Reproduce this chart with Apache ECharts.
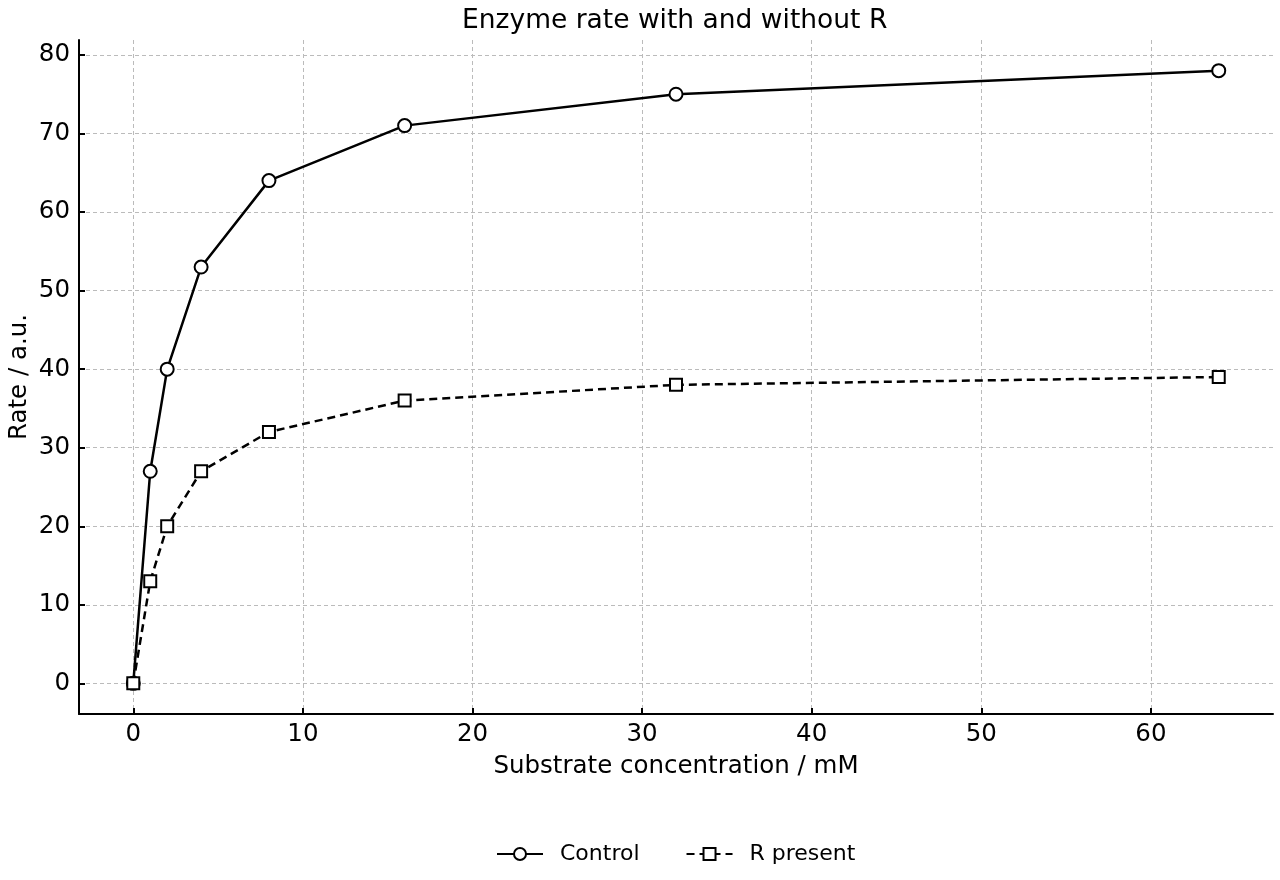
<!DOCTYPE html>
<html>
<head>
<meta charset="utf-8">
<script src="https://cdn.jsdelivr.net/npm/echarts@6/dist/echarts.min.js"></script>
<style>
  html, body { margin: 0; padding: 0; background: #fff; }
  #main { width: 1280px; height: 880px; }
</style>
</head>
<body>
<div id="main"></div>
<script>
var substrate = [0, 1, 2, 4, 8, 16, 32, 64];
var controlRate = [0, 27, 40, 53, 64, 71, 75, 78];
var rPresentRate = [0, 13, 20, 27, 32, 36, 38, 39];
var xTicks = [0, 10, 20, 30, 40, 50, 60];
var yTicks = [0, 10, 20, 30, 40, 50, 60, 70, 80];

function pairs(xs, ys) {
    var out = [];
    for (var i = 0; i < xs.length; i++) {
        out.push([xs[i], ys[i]]);
    }
    return out;
}

var font = 'DejaVu Sans';
var myChart = echarts.init(document.getElementById('main'));

var option = {
    animation: false,
    backgroundColor: '#fff',
    textStyle: {fontFamily: font, color: '#000'},
    title: {
        text: 'Enzyme rate with and without R',
        left: 457,
        top: 3,
        textStyle: {fontFamily: font, fontSize: 26.5, fontWeight: 'normal', color: '#000'}
    },
    legend: {
        bottom: 10,
        left: 491,
        itemWidth: 46,
        itemHeight: 15,
        itemGap: 46,
        textStyle: {fontFamily: font, fontSize: 22, color: '#000', padding: [0, 0, 0, 12]},
        data: ['Control', 'R present']
    },
    grid: {left: 79, right: 7, top: 40, bottom: 166, outerBoundsMode: 'none', containLabel: false},
    xAxis: {
        type: 'value',
        min: -3.2,
        max: 67.2,
        name: 'Substrate concentration / mM',
        nameLocation: 'middle',
        nameGap: 40,
        nameTextStyle: {fontFamily: font, fontSize: 24.5, color: '#000'},
        axisLine: {show: true, onZero: false, lineStyle: {color: '#000', width: 2}},
        axisTick: {show: true, inside: true, length: 6, lineStyle: {color: '#000', width: 2}, customValues: xTicks},
        axisLabel: {fontFamily: font, fontSize: 24.5, color: '#000', margin: 8, customValues: xTicks},
        splitLine: {show: true, lineStyle: {color: '#bbb', type: [4, 3], width: 1}, customValues: xTicks}
    },
    yAxis: {
        type: 'value',
        min: -3.9,
        max: 81.9,
        name: 'Rate / a.u.',
        nameLocation: 'middle',
        nameGap: 47,
        nameMoveOverlap: false,
        nameTextStyle: {fontFamily: font, fontSize: 24.5, color: '#000'},
        axisLine: {show: true, onZero: false, lineStyle: {color: '#000', width: 2}},
        axisTick: {show: true, inside: true, length: 6, lineStyle: {color: '#000', width: 2}, customValues: yTicks},
        axisLabel: {fontFamily: font, fontSize: 24.5, color: '#000', margin: 9, customValues: yTicks},
        splitLine: {show: true, lineStyle: {color: '#bbb', type: [4, 3], width: 1}, customValues: yTicks}
    },
    series: [
        {
            name: 'Control',
            type: 'line',
            data: pairs(substrate, controlRate),
            symbol: 'circle',
            symbolSize: 13,
            showAllSymbol: true,
            lineStyle: {color: '#000', width: 2.5},
            itemStyle: {color: '#fff', borderColor: '#000', borderWidth: 2},
            z: 3
        },
        {
            name: 'R present',
            type: 'line',
            data: pairs(substrate, rPresentRate),
            symbol: 'rect',
            symbolSize: 12,
            showAllSymbol: true,
            lineStyle: {color: '#000', width: 2.5, type: [8, 5]},
            itemStyle: {color: '#fff', borderColor: '#000', borderWidth: 2},
            z: 3
        }
    ]
};
myChart.setOption(option);
</script>
</body>
</html>
